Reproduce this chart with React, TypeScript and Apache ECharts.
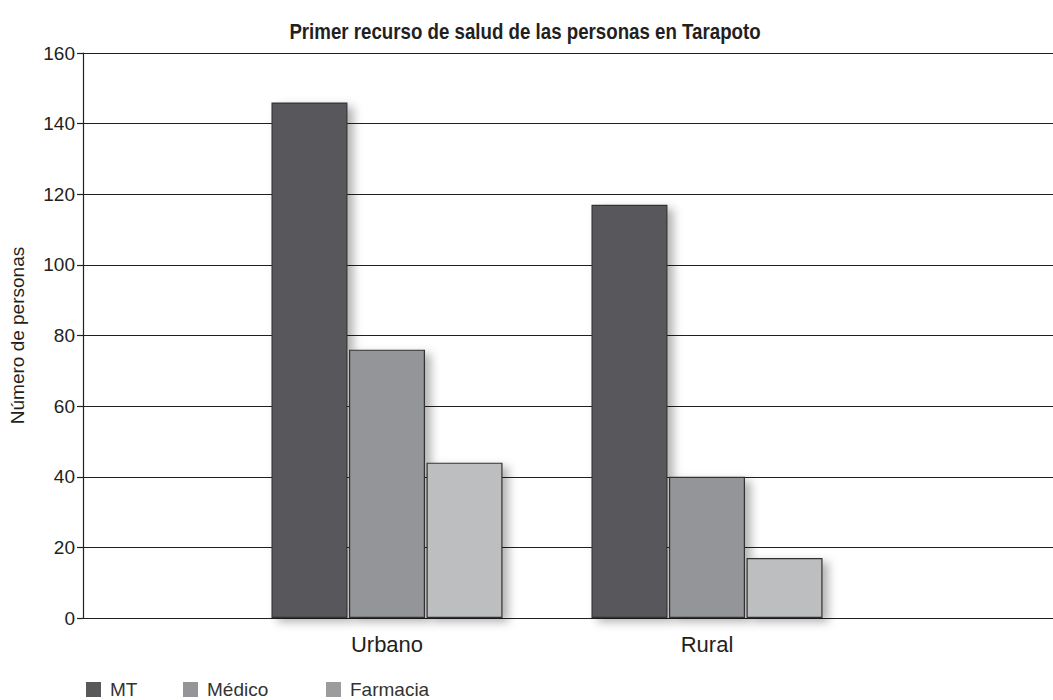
import React, { useEffect, useRef } from "react";
import * as echarts from "echarts";

const categories = ["Urbano", "Rural"];
const seriesNames = ["MT", "Médico", "Farmacia"];
const mtValues = [146, 117];
const medicoValues = [76, 40];
const farmaciaValues = [44, 17];
const yTicks = { min: 0, max: 160, interval: 20 };
const titleText = "Primer recurso de salud de las personas en Tarapoto";

const colors = ["#58595b", "#939598", "#bcbec0"];
const legendColors = ["#58595b", "#939598", "#9a9c9e"];
const legendLefts = [86, 183, 326];

export default function App() {
  const ref = useRef<HTMLDivElement>(null);
  useEffect(() => {
    if (!ref.current) return;
    const chart = echarts.init(ref.current, undefined, { renderer: "svg" });
    const font = "'Liberation Sans', Arial, sans-serif";
    const values = [mtValues, medicoValues, farmaciaValues];
    chart.setOption({
      animation: false,
      backgroundColor: "#ffffff",
      graphic: [
        {
          type: "text",
          x: 525,
          y: 31,
          scaleX: 0.85,
          style: {
            text: titleText,
            fontFamily: "'Liberation Sans', Arial, sans-serif",
            fontWeight: "bold",
            fontSize: 22,
            fill: "#231f20",
            textAlign: "center",
            textVerticalAlign: "middle",
          },
        },
      ],
      legend: seriesNames.map((n, i) => ({
        left: legendLefts[i],
        top: 680,
        padding: 0,
        itemWidth: 15,
        itemHeight: 15,
        icon: "rect",
        textStyle: { fontFamily: font, fontSize: 19, color: "#333", padding: [0, 0, 0, 4] },
        data: [
          {
            name: n,
            itemStyle: { color: legendColors[i], borderWidth: 0, shadowBlur: 0, shadowOffsetX: 0, shadowOffsetY: 0 },
          },
        ],
      })),
      grid: [
        { left: 80, right: 0, top: 53, bottom: 82 },
        { left: 227, width: 640, top: 53, bottom: 82 },
      ],
      xAxis: [
        { type: "value", gridIndex: 0, show: false, min: 0, max: 1 },
        {
          type: "category",
          gridIndex: 1,
          data: categories,
          axisLine: { show: false },
          axisTick: { show: false },
          axisLabel: { fontFamily: font, fontSize: 22, color: "#231f20", margin: 15 },
        },
      ],
      yAxis: [
        {
          type: "value",
          gridIndex: 0,
          min: yTicks.min,
          max: yTicks.max,
          interval: yTicks.interval,
          name: "Número de personas",
          nameLocation: "middle",
          nameGap: 56,
          nameTextStyle: { fontFamily: font, fontSize: 19, color: "#231f20" },
          axisLine: { show: true, lineStyle: { color: "#231f20", width: 1.2 } },
          axisTick: { show: true, length: 6, lineStyle: { color: "#231f20", width: 1.2 } },
          axisLabel: { fontFamily: font, fontSize: 19, color: "#231f20", margin: 8 },
          splitLine: { show: true, lineStyle: { color: "#231f20", width: 1.2 } },
        },
        {
          type: "value",
          gridIndex: 1,
          min: yTicks.min,
          max: yTicks.max,
          interval: yTicks.interval,
          show: false,
          splitLine: { show: false },
        },
      ],
      series: seriesNames.map((n, i) => ({
        name: n,
        type: "bar",
        xAxisIndex: 1,
        yAxisIndex: 1,
        data: values[i],
        barWidth: 76,
        barGap: "2%",
        itemStyle: {
          color: colors[i],
          borderColor: "#333333",
          borderWidth: 1.2,
          shadowColor: "rgba(0,0,0,0.3)",
          shadowBlur: 10,
          shadowOffsetX: 6,
          shadowOffsetY: 4,
        },
      })),
    });
    return () => chart.dispose();
  }, []);
  return (
    <div
      ref={ref}
      style={{ position: "fixed", left: 0, top: 0, width: 1053, height: 700 }}
    />
  );
}
